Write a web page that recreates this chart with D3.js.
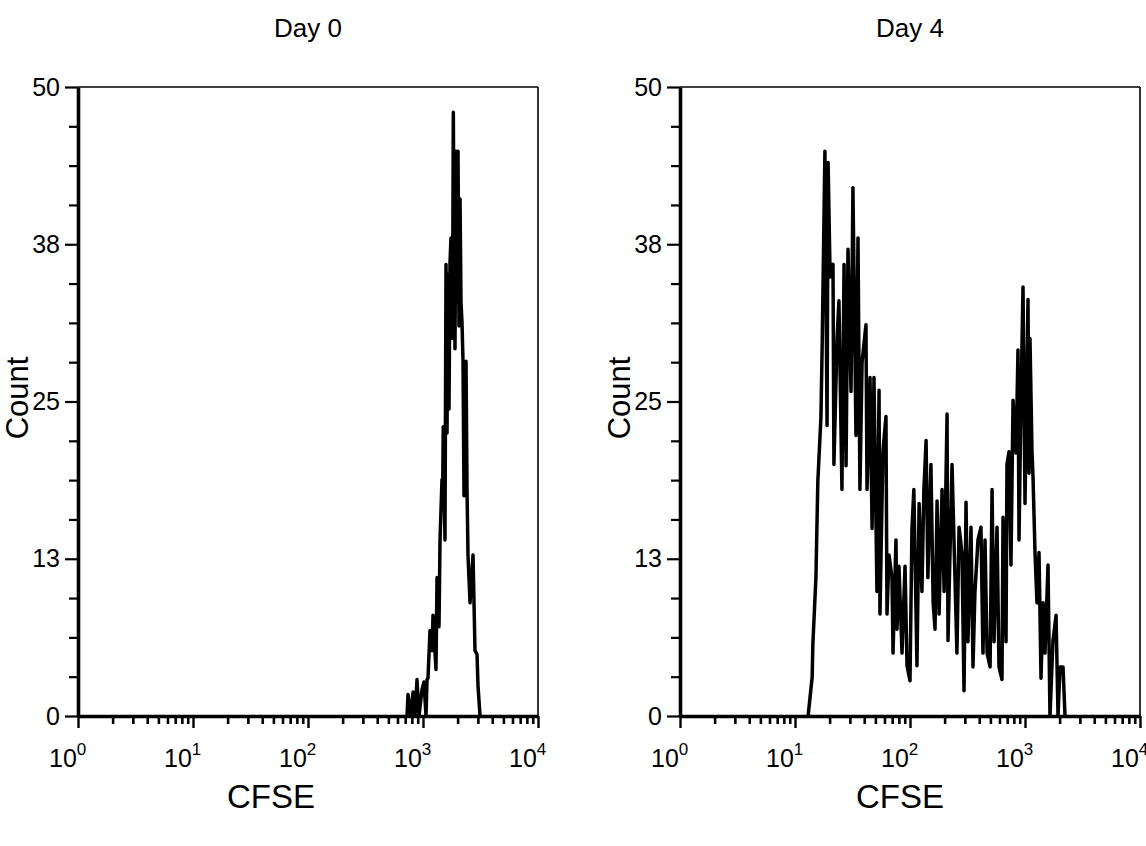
<!DOCTYPE html>
<html>
<head>
<meta charset="utf-8">
<script src="https://cdn.jsdelivr.net/npm/d3@7"></script>
<style>
  body { margin: 0; background: #fff; }
  svg { display: block; }
  text { font-family: Arial, "Liberation Sans", sans-serif; fill: #000; }
</style>
</head>
<body>
<div id="chart"></div>
<script>
// CFSE histograms
const day0Cfse = [726, 741, 787, 819, 852, 887, 923, 980, 1020, 1062, 1084, 1105, 1151, 1198, 1222, 1297, 1324, 1378, 1406, 1463, 1480, 1500, 1553, 1585, 1618, 1649, 1683, 1717, 1751, 1786, 1810, 1835, 1860, 1897, 1937, 1977, 2016, 2056, 2099, 2140, 2183, 2228, 2273, 2366, 2414, 2462, 2564, 2722, 2833, 2951, 3008, 3133];
const day0Count = [0, 1.7, 0, 1.9, 0, 2.9, 0, 2.1, 2.7, 0, 2.9, 3, 6.8, 5.2, 8, 3.7, 11, 7.1, 14, 18.8, 16.8, 23, 14, 35.9, 22.5, 35.1, 24.4, 36, 38, 30, 33.9, 48, 38, 29.2, 44.9, 32.9, 44.9, 31, 41.1, 32.9, 31.3, 28.2, 17.5, 28.2, 18.1, 12.8, 9, 12.8, 5.2, 4.9, 2.4, 0];

const day4Cfse = [13.0, 14.1, 14.3, 15.2, 15.8, 16.8, 17.2, 18.2, 19.0, 19.4, 20.2, 21.4, 21.8, 23.2, 24.1, 25.6, 26.7, 27.8, 28.9, 30.7, 31.9, 33.9, 35.3, 36.7, 38.3, 41.4, 42.3, 44.9, 46.8, 48.6, 51.6, 53.8, 54.8, 58.2, 61.8, 63.1, 65.7, 69.7, 71.2, 75.5, 77.1, 80.2, 85.2, 90.5, 94.2, 100, 104, 108, 115, 120, 127, 132, 138, 143, 152, 159, 165, 172, 179, 190, 198, 210, 214, 232, 246, 256, 267, 283, 295, 307, 319, 339, 353, 367, 390, 414, 431, 449, 468, 497, 517, 538, 571, 594, 631, 644, 684, 697, 726, 755, 787, 836, 869, 887, 923, 961, 1000, 1062, 1084, 1105, 1151, 1174, 1222, 1271, 1324, 1378, 1435, 1493, 1585, 1649, 1751, 1862, 1937, 2016, 2140, 2228];
const day4Count = [0, 3.1, 5.7, 11, 18.7, 23.7, 29, 44.9, 23.1, 44, 34.9, 35.9, 20, 29.9, 33, 18, 35.9, 19.9, 37.1, 25.8, 42, 22.3, 38, 18, 28.1, 31.1, 18, 26.9, 14.9, 26.9, 9.9, 25.9, 8.1, 21.1, 23.8, 8.1, 12.8, 11, 5, 14, 6.9, 11.9, 5, 11.9, 4, 2.8, 14.9, 18, 4, 16.9, 9.9, 18, 21.9, 11, 20, 9, 6.9, 17.1, 8.1, 18, 9.9, 24, 6, 20, 11, 5, 15, 13, 2, 17, 5.9, 15, 3.9, 9.8, 14, 15, 5, 14, 5, 3.9, 18, 5.9, 15, 3.9, 2.9, 15.8, 5.9, 20, 21, 12, 25.1, 20.9, 29.1, 14, 25.1, 34.1, 16.9, 33.1, 19.3, 30, 20.9, 19, 13, 9, 13, 3, 9, 5, 12, 0, 6, 8, 0, 3.9, 3.9, 0];

const panelTitles = ["Day 0", "Day 4"];
const yTickValues = [0, 12.5, 25, 37.5, 50];
const yTickLabels = ["0", "13", "25", "38", "50"];
const yMinorTicks = [3.125, 6.25, 9.375, 15.625, 18.75, 21.875, 28.125, 31.25, 34.375, 40.625, 43.75, 46.875];
const xDecades = [1, 10, 100, 1000, 10000];
const xDecadeExp = ["0", "1", "2", "3", "4"];
const xMinorTicks = [2, 3, 4, 5, 6, 7, 8, 9, 20, 30, 40, 50, 60, 70, 80, 90, 200, 300, 400, 500, 600, 700, 800, 900, 2000, 3000, 4000, 5000, 6000, 7000, 8000, 9000];

const svgWidth = 1146;
const svgHeight = 846;
const plotW = 460;
const plotH = 629;
const panelLeft = [78, 680];
const plotTop = 87;
const cfseLabelX = [271, 900];

const svg = d3.select('#chart').append('svg')
    .attr('width', svgWidth).attr('height', svgHeight);

const x = d3.scaleLog([1, 10000], [0, plotW]);
const y = d3.scaleLinear([0, 50], [plotH, 0]);

function drawPanel(i, cfse, count) {
    const g = svg.append('g').attr('transform', `translate(${panelLeft[i]},${plotTop})`);
    const data = cfse.map((c, k) => ({ cfse: c, count: count[k] }));

    // frame (thin top / right)
    g.append('line').attr('x1', 0).attr('x2', plotW).attr('y1', 0).attr('y2', 0)
        .attr('stroke', '#000').attr('stroke-width', 1.6);
    g.append('line').attr('x1', plotW).attr('x2', plotW).attr('y1', 0).attr('y2', plotH)
        .attr('stroke', '#000').attr('stroke-width', 1.6);

    // histogram
    const line = d3.line().x(d => x(d.cfse)).y(d => y(d.count));
    g.append('path').datum(data).attr('d', line)
        .attr('fill', 'none').attr('stroke', '#000')
        .attr('stroke-width', 3.5).attr('stroke-linejoin', 'round');

    // y axis
    const yMinor = g.append('g').call(d3.axisLeft(y).tickValues(yMinorTicks).tickSize(9).tickSizeOuter(0).tickFormat(''));
    yMinor.select('.domain').remove();
    const yAxis = g.append('g').call(d3.axisLeft(y).tickValues(yTickValues)
        .tickFormat((d, k) => yTickLabels[k]).tickSize(13).tickSizeOuter(0).tickPadding(5));
    yAxis.select('.domain').attr('stroke-width', 3.6);
    yAxis.selectAll('text').style('font-size', '25px');
    g.selectAll('.tick line').attr('stroke-width', 2.2);

    // x axis
    const xMinor = g.append('g').attr('transform', `translate(0,${plotH})`)
        .call(d3.axisBottom(x).tickValues(xMinorTicks).tickSize(8).tickSizeOuter(0).tickFormat(''));
    xMinor.select('.domain').remove();
    xMinor.selectAll('.tick line').attr('stroke-width', 2.6);
    const xAxis = g.append('g').attr('transform', `translate(0,${plotH})`)
        .call(d3.axisBottom(x).tickValues(xDecades).tickSize(12).tickSizeOuter(0).tickFormat(''));
    xAxis.select('.domain').attr('stroke-width', 3.6);
    xAxis.selectAll('.tick line').attr('stroke-width', 2.4);

    // decade labels 10^n
    const lab = g.append('g').selectAll('text').data(xDecades).join('text')
        .attr('x', d => x(d) - 29).attr('y', plotH + 51)
        .style('font-size', '25px');
    lab.append('tspan').text('10');
    lab.append('tspan').attr('dy', -12).style('font-size', '17px').text((d, k) => xDecadeExp[k]);

    // titles
    svg.append('text').attr('x', panelLeft[i] + plotW / 2).attr('y', 37)
        .attr('text-anchor', 'middle').style('font-size', '26px').text(panelTitles[i]);
    svg.append('text').attr('x', cfseLabelX[i]).attr('y', 808)
        .attr('text-anchor', 'middle').style('font-size', '33px').text('CFSE');
    svg.append('text')
        .attr('transform', `translate(${panelLeft[i] - 50},${plotTop + 311}) rotate(-90)`)
        .attr('text-anchor', 'middle').style('font-size', '31px').text('Count');
}

drawPanel(0, day0Cfse, day0Count);
drawPanel(1, day4Cfse, day4Count);
</script>
</body>
</html>
